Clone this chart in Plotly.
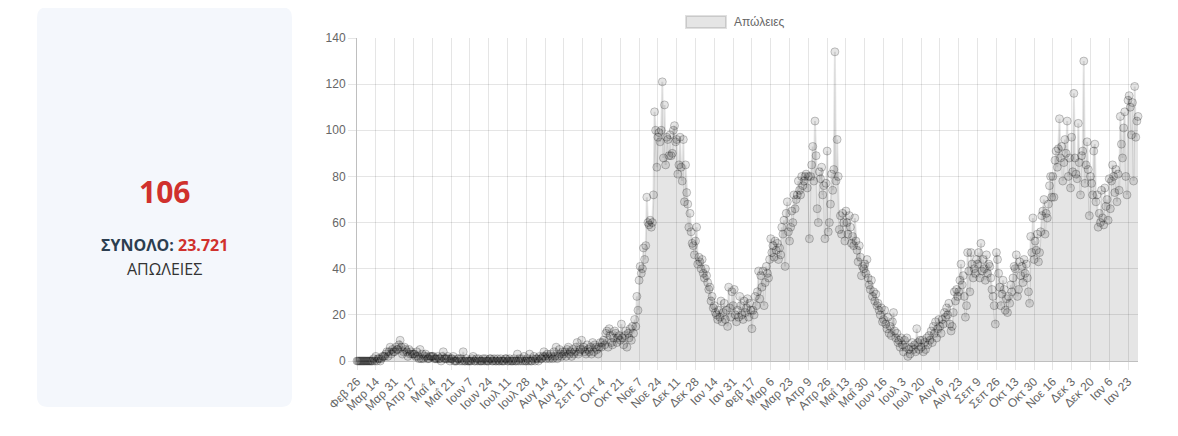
import pandas as pd
import plotly.graph_objects as go

# ---------------- data (daily deaths, Greece, from 26 Feb 2020) ----------------
start_date = "2020-02-26"

deaths_spring_2020 = [
    0,0,0,0,0,0,0,0,0,0,0,0,0,0,0,1,0,
    2,0,1,1,0,1,2,2,2,3,4,2,4,6,3,5,4,
    4,6,5,5,7,9,6,3,4,6,5,4,2,5,3,4,3,
    3,3,2,4,2,1,5,1,3,1,2,3,2,1,1,2,2,
    2,2,1,1,1,2,1,1,0,2,4,1,1,1,2,1,0,
    1,1,2,0,0,0,1,1,0,1,0,4,0,0,1,0,0,
]
deaths_summer_2020 = [
    0,0,1,2,0,0,1,0,1,0,0,0,1,0,1,0,0,
    0,1,1,0,0,1,0,0,1,0,0,1,0,0,0,1,1,
    0,0,1,0,0,0,1,0,0,3,0,1,0,1,0,2,0,
    0,1,0,3,0,0,1,2,0,1,1,0,2,1,1,2,4,
    2,1,3,2,1,3,2,1,4,2,6,1,2,5,3,2,4,
    3,4,2,5,6,3,4,2,5,3,4,6,8,3,4,5,9,
    5,6,4,3,7,5,4,6,3,8,4,7,6,5,3,6,8,
    6,8,9,7,12,13,6,14,11,8,7,10,13,12,8,10,11,
]
deaths_wave_autumn_2020 = [
    9,16,10,7,11,13,6,12,10,14,9,15,12,18,15,28,22,
    35,41,38,40,49,44,50,71,60,59,61,58,60,72,108,100,84,
    97,99,95,100,121,88,111,85,97,96,89,98,89,90,100,102,95,
    96,81,85,97,84,78,96,69,85,73,68,58,64,56,51,50,46,
    52,58,42,45,43,40,44,38,36,40,37,34,31,32,26,28,23,
    24,21,20,18,22,19,26,17,21,25,18,22,15,32,23,19,30,
    24,31,20,17,22,19,28,24,20,18,26,21,23,27,19,25,22,
]
deaths_wave_spring_2021 = [
    14,22,20,28,24,30,39,27,37,32,39,24,34,41,38,36,44,
    53,47,50,45,52,48,51,44,49,46,58,55,61,41,64,69,56,
    52,58,65,60,72,66,70,72,78,74,72,80,76,78,80,81,75,
    80,53,80,85,93,78,104,89,66,60,82,79,84,72,76,53,77,
    91,56,60,68,81,74,83,134,78,96,80,57,63,55,64,60,52,
    65,60,55,63,58,51,54,50,62,52,48,43,50,45,37,41,40,
    42,38,44,36,33,31,35,28,30,26,29,24,25,22,20,23,17,
    18,22,16,14,19,12,15,11,17,21,13,10,12,8,9,6,10,
]
deaths_summer_2021 = [
    7,4,9,6,10,2,5,3,6,8,5,7,4,14,8,5,9,
    6,9,4,8,5,10,7,11,9,13,8,15,12,17,10,14,18,
    15,12,18,16,21,19,23,20,25,16,13,15,21,30,26,31,28,
    30,35,42,33,37,28,19,24,47,39,30,47,42,36,40,38,44,
    42,47,36,51,39,44,40,35,46,38,42,41,36,31,28,24,16,
]
deaths_wave_winter_2021 = [
    47,44,38,32,24,29,35,31,22,27,21,28,25,33,30,36,41,
    40,46,28,31,43,37,41,34,44,38,42,36,30,25,54,47,62,
    44,52,48,55,43,47,56,63,65,70,55,64,62,68,76,80,71,
    80,71,87,91,84,92,105,88,93,78,86,96,90,104,80,88,75,
    97,82,116,88,81,79,103,86,72,89,91,130,77,85,95,83,63,
    80,77,72,91,94,69,72,58,64,60,74,62,59,75,67,70,61,
    79,66,78,85,80,73,83,69,81,74,106,94,88,101,108,80,72,
    113,115,110,98,112,78,119,97,104,106,
]

months_gr = ["Ιαν", "Φεβ", "Μαρ", "Απρ", "Μαΐ", "Ιουν",
             "Ιουλ", "Αυγ", "Σεπ", "Οκτ", "Νοε", "Δεκ"]
series_name = "Απώλειες"
last_value = "106"
total_label = "ΣΥΝΟΛΟ:"
total_value = "23.721"
card_caption = "ΑΠΩΛΕΙΕΣ"
y_ticks = [0, 20, 40, 60, 80, 100, 120, 140]

deaths = (deaths_spring_2020 + deaths_summer_2020 + deaths_wave_autumn_2020
          + deaths_wave_spring_2021 + deaths_summer_2021 + deaths_wave_winter_2021)
dates = pd.date_range(start_date, periods=len(deaths), freq="D")
tick_dates = dates[::17]
tick_text = [f"{months_gr[d.month - 1]} {d.day}" for d in tick_dates]

# ---------------- geometry helpers (screen pixel -> paper) ----------------
OFF = 8                      # default body margin of the html page
W, H = 1178 - OFF, 436 - OFF
ML, MT = 357 - OFF, 38 - OFF
PW, PH = 781, 323
MR, MB = W - ML - PW, H - MT - PH


def px(x):
    return (x - OFF - ML) / PW


def py(y):
    return (MT + PH - (y - OFF)) / PH


FONT = "Liberation Sans, Arial, Helvetica, sans-serif"
CARD_FONT = "Open Sans, Noto Sans, sans-serif"
GRID = "rgba(0,0,0,0.1)"

fig = go.Figure()
fig.add_trace(go.Scatter(
    x=dates, y=deaths, name=series_name, mode="lines+markers",
    fill="tozeroy", fillcolor="rgba(0,0,0,0.1)",
    line=dict(color="rgba(0,0,0,0.1)", width=2),
    marker=dict(size=8, color="rgba(0,0,0,0.1)",
                line=dict(color="rgba(0,0,0,0.22)", width=1)),
    cliponaxis=False, showlegend=False,
))

# rounded card on the left
x0, x1, y0, y1 = px(37), px(292), py(407), py(7)
rx, ry = 11 / PW, 11 / PH
card_path = (f"M {x0+rx},{y0} L {x1-rx},{y0} Q {x1},{y0} {x1},{y0+ry} "
             f"L {x1},{y1-ry} Q {x1},{y1} {x1-rx},{y1} "
             f"L {x0+rx},{y1} Q {x0},{y1} {x0},{y1-ry} "
             f"L {x0},{y0+ry} Q {x0},{y0} {x0+rx},{y0} Z")
shapes = [
    dict(type="path", xref="paper", yref="paper", path=card_path,
         fillcolor="#f4f7fc", line=dict(width=0), layer="below"),
    dict(type="rect", xref="paper", yref="paper",
         x0=px(686), x1=px(726), y0=py(28), y1=py(16),
         fillcolor="rgba(0,0,0,0.1)", line=dict(color="rgba(0,0,0,0.12)", width=2)),
]

annotations = [
    dict(xref="paper", yref="paper", x=px(732), y=py(22), xanchor="left",
         yanchor="middle", showarrow=False, text=series_name,
         font=dict(family=FONT, size=12, color="#666")),
    dict(xref="paper", yref="paper", x=px(164), y=py(192), xanchor="center",
         yanchor="middle", showarrow=False, text=f"<b>{last_value}</b>",
         font=dict(family=CARD_FONT, size=30, color="#d0312d")),
    dict(xref="paper", yref="paper", x=px(164), y=py(245), xanchor="center",
         yanchor="middle", showarrow=False,
         text=(f"<b><span style='color:#2c3e50'>{total_label}</span> "
               f"<span style='color:#d0312d'>{total_value}</span></b>"),
         font=dict(family=CARD_FONT, size=16, color="#2c3e50")),
    dict(xref="paper", yref="paper", x=px(164), y=py(269), xanchor="center",
         yanchor="middle", showarrow=False, text=card_caption,
         font=dict(family=CARD_FONT, size=16, color="#333")),
]

fig.update_layout(
    width=W, height=H,
    margin=dict(l=ML, r=MR, t=MT, b=MB, pad=0),
    paper_bgcolor="white", plot_bgcolor="white",
    showlegend=False, shapes=shapes, annotations=annotations,
    font=dict(family=FONT, size=12, color="#666"),
    xaxis=dict(
        type="date", range=[dates[0], dates[-1]],
        tickmode="array", tickvals=tick_dates, ticktext=tick_text,
        tickangle=-45, showgrid=True, gridcolor=GRID, gridwidth=1,
        ticks="outside", ticklen=8, tickcolor=GRID,
        showline=True, linecolor="rgba(0,0,0,0.25)", linewidth=1,
        zeroline=False, tickfont=dict(family=FONT, size=12, color="#666"),
    ),
    yaxis=dict(
        range=[0, 140], tickmode="array", tickvals=y_ticks,
        showgrid=True, gridcolor=GRID, gridwidth=1,
        ticks="outside", ticklen=8, tickcolor=GRID,
        showline=True, linecolor="rgba(0,0,0,0.25)", linewidth=1,
        zeroline=False, tickfont=dict(family=FONT, size=12, color="#666"),
    ),
)

fig.write_html("out.html")
